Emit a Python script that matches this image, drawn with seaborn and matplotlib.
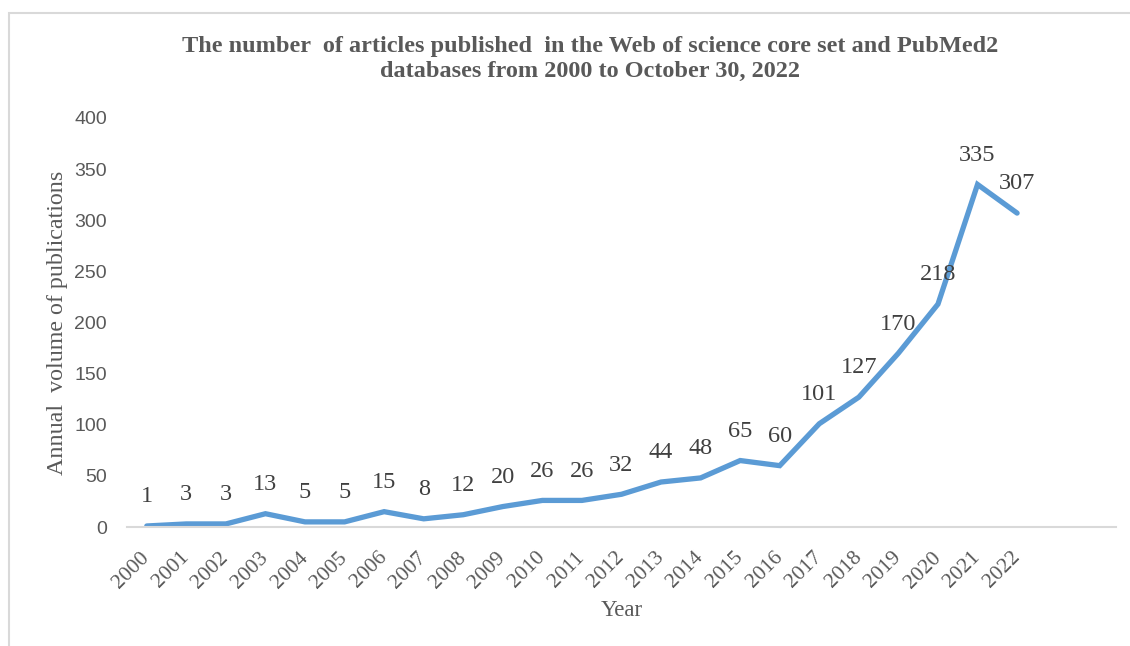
import matplotlib
matplotlib.use("Agg")
import matplotlib.pyplot as plt
from matplotlib.patches import Rectangle
import seaborn as sns
import pandas as pd

# ================= data =================
YEARS = [str(y) for y in range(2000, 2023)]
COUNTS = [1, 3, 3, 13, 5, 5, 15, 8, 12, 20, 26, 26, 32, 44, 48, 65, 60,
          101, 127, 170, 218, 335, 307]
Y_TICKS = [0, 50, 100, 150, 200, 250, 300, 350, 400]
TITLE = ("The number  of articles published  in the Web of science core set and PubMed2\n"
         "databases from 2000 to October 30, 2022")
X_LABEL = "Year"
Y_LABEL = "Annual  volume of publications"
# ========================================

LINE_COLOR = "#5B9BD5"
GRAY = "#595959"
SERIF = ["Liberation Serif", "DejaVu Serif"]
SANS = ["Liberation Sans", "DejaVu Sans"]


def plot_publications():
    sns.set_theme(style="white")
    plt.rcParams['font.family'] = SERIF

    df = pd.DataFrame({"pos": range(len(YEARS)), "year": YEARS, "count": COUNTS})

    fig = plt.figure(figsize=(11.3, 6.46), dpi=100)
    ax = fig.add_axes([127 / 1130, 1 - 527 / 646, 989 / 1130, 409 / 646])

    sns.lineplot(data=df, x="pos", y="count", ax=ax, color=LINE_COLOR,
                 linewidth=3.8, solid_capstyle="round", solid_joinstyle="miter")

    # data labels above each point
    for _, row in df.iterrows():
        ax.annotate(str(row["count"]), (row["pos"], row["count"]),
                    xytext=(0, 21), textcoords="offset points",
                    ha="center", va="center", fontsize=17.5,
                    color="#404040", family=SERIF)

    # axes, extra empty categories on the right like the excel chart
    ax.set_xlim(-0.5, 24.5)
    ax.set_ylim(0, 400)
    ax.set_yticks(Y_TICKS)
    ax.set_yticklabels([str(t) for t in Y_TICKS], family=SANS, fontsize=14, color=GRAY)
    ax.set_xticks(df["pos"])
    ax.set_xticklabels(YEARS, rotation=45, ha="right", va="center",
                       rotation_mode="anchor", family=SERIF, fontsize=15.5, color=GRAY)
    ax.tick_params(axis="both", length=0)
    ax.tick_params(axis="y", pad=14.5)
    ax.tick_params(axis="x", pad=20)

    for side in ["top", "right", "left"]:
        ax.spines[side].set_visible(False)
    ax.spines["bottom"].set_color("#D9D9D9")
    ax.spines["bottom"].set_linewidth(1.5)
    ax.grid(False)

    ax.set_xlabel(X_LABEL, fontsize=16.5, color=GRAY, family=SERIF)
    ax.set_ylabel(Y_LABEL, fontsize=17.3, color=GRAY, family=SERIF)
    ax.xaxis.set_label_coords(0.5, -0.178)
    ax.yaxis.set_label_coords(-0.06, 0.499)

    fig.text(590 / 1130, 1 - 59 / 646, TITLE, ha="center", va="center",
             fontsize=17.5, fontweight="bold", color=GRAY, family=SERIF,
             linespacing=1.3)

    # chart area border (cut off at right and bottom)
    fig.patches.append(Rectangle((9 / 1130, -0.2), 1.5, 0.2 + 1 - 13 / 646,
                                 transform=fig.transFigure, fill=False,
                                 edgecolor="#D9D9D9", linewidth=1.5))

    fig.savefig("out.png", dpi=100)


if __name__ == "__main__":
    plot_publications()
